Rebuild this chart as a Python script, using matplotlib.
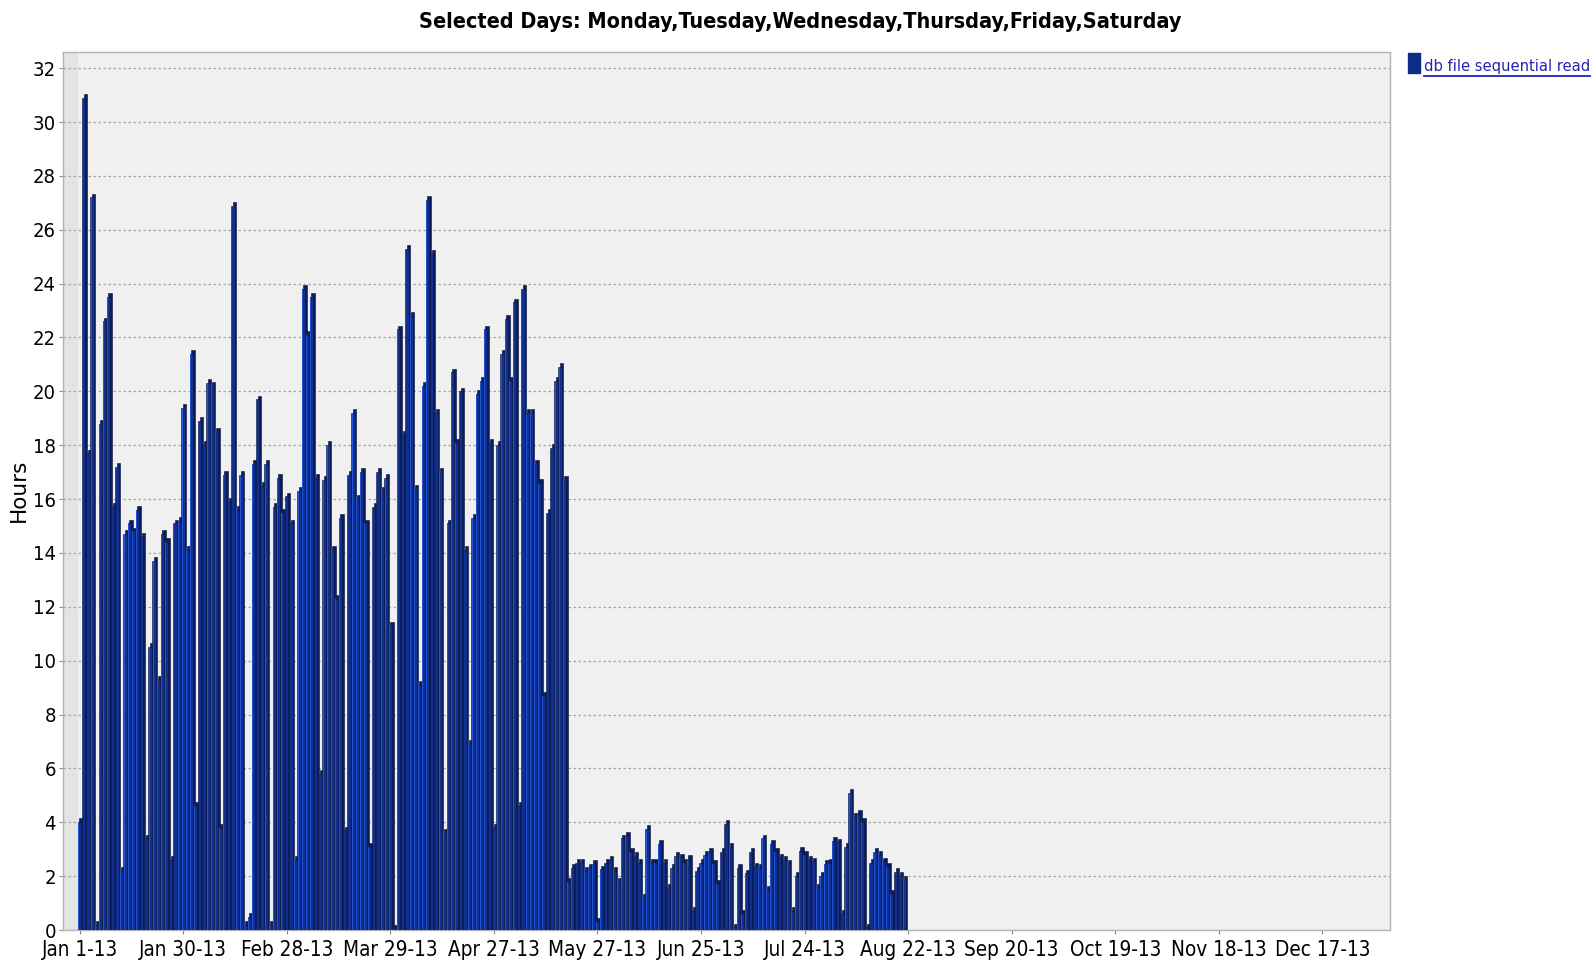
import matplotlib
matplotlib.use("Agg")
import matplotlib.pyplot as plt
from matplotlib import font_manager
from matplotlib.lines import Line2D
from matplotlib.patches import Rectangle
import numpy as np
import pandas as pd

title = "Selected Days: Monday,Tuesday,Wednesday,Thursday,Friday,Saturday"
series_name = "db file sequential read"
y_label = "Hours"

tick_labels = ["Jan 1-13", "Jan 30-13", "Feb 28-13", "Mar 29-13", "Apr 27-13",
               "May 27-13", "Jun 25-13", "Jul 24-13", "Aug 22-13", "Sep 20-13",
               "Oct 19-13", "Nov 18-13", "Dec 17-13"]

# hours per selected day, starting Jan 1 2013 (Sundays skipped)
hours = [
    4.0, 30.9, 17.7, 27.2, 0.2, 18.8, 22.6, 23.5, 15.7, 17.2,
    2.2, 14.7, 15.1, 14.8, 15.6, 14.6, 3.4, 10.5, 13.7, 9.3,
    14.7, 14.4, 2.6, 15.1, 15.2, 19.4, 14.1, 21.4, 4.6, 18.9,
    18.0, 20.3, 20.2, 18.5, 3.8, 16.9, 15.9, 26.9, 15.6, 16.9,
    0.2, 0.5, 17.3, 19.7, 16.5, 17.3, 0.2, 15.7, 16.8, 15.5,
    16.1, 15.1, 2.6, 16.3, 23.8, 22.1, 23.5, 16.8, 5.8, 16.7,
    18.0, 14.1, 12.3, 15.3, 3.7, 16.9, 19.2, 16.0, 17.0, 15.1,
    3.1, 15.7, 17.0, 16.3, 16.8, 11.3, 0.05, 22.3, 18.4, 25.3,
    22.8, 16.4, 9.1, 20.2, 27.1, 25.1, 19.2, 17.0, 3.6, 15.1,
    20.7, 18.1, 20.0, 14.1, 6.9, 15.3, 19.9, 20.4, 22.3, 18.1,
    3.8, 18.0, 21.4, 22.7, 20.4, 23.3, 4.6, 23.8, 19.2, 19.2,
    17.3, 16.6, 8.7, 15.5, 17.9, 20.4, 20.9, 16.7, 1.8, 2.3,
    2.5, 2.5, 2.2, 2.3, 2.45, 0.3, 2.25, 2.5, 2.6, 2.2,
    1.8, 3.4, 3.5, 2.9, 2.75, 2.5, 1.2, 3.75, 2.5, 2.5,
    3.2, 2.5, 1.55, 2.3, 2.75, 2.7, 2.5, 2.65, 0.7, 2.2,
    2.5, 2.8, 2.9, 2.45, 1.7, 2.9, 3.95, 3.1, 0.1, 2.3,
    0.6, 2.1, 2.9, 2.35, 2.3, 3.4, 1.5, 3.2, 2.9, 2.7,
    2.6, 2.45, 0.7, 2.0, 2.95, 2.8, 2.6, 2.55, 1.55, 2.0,
    2.45, 2.5, 3.3, 3.25, 0.6, 3.1, 5.1, 4.2, 4.3, 4.0,
    0.1, 2.5, 2.9, 2.8, 2.55, 2.35, 1.35, 2.15, 2.0, 1.85,
]

# Mon-Sat categories for the whole year, labels every 25th
days = pd.date_range("2013-01-01", "2013-12-31")
days = days[days.dayofweek != 6]

# narrow font if there is one, the width gets fitted below anyway
fonts = font_manager.fontManager.ttflist
narrow = {"family": "DejaVu Sans"}
if any(f.name == "Liberation Sans Narrow" for f in fonts):
    narrow = {"family": "Liberation Sans Narrow"}
elif any(f.name == "DejaVu Sans" and f.stretch == "condensed" for f in fonts):
    narrow = {"family": "DejaVu Sans", "stretch": "condensed"}

W, H = 1596, 969
fig = plt.figure(figsize=(W / 100, H / 100), dpi=100)
ax = fig.add_axes([63 / W, 1 - 930 / H, (1390 - 63) / W, (930 - 52) / H])
ax.set_facecolor("#f0f0f0")
ax.set_xlim(-4, len(days) + 3.3)
ax.set_ylim(0, 32.6)

x = np.arange(len(hours))
vals = np.array(hours)

# fake 3D: dark side/top block behind, front face, light stripe
ax.bar(x + 0.38, vals + 0.14, width=0.82, color="#0b1d5c", edgecolor="#06103a",
       linewidth=0.4, zorder=2)
ax.bar(x, vals, width=0.82, color="#11308e", edgecolor="#0a1746",
       linewidth=0.4, zorder=3)
ax.bar(x - 0.2, vals, width=0.18, color="#2453cf", linewidth=0, zorder=4)

ax.axvspan(-4, -0.6, color="#e4e4e4", zorder=0)

ax.set_yticks(range(0, 33, 2))
ax.yaxis.grid(True, color="#a6a6a6", linestyle=(0, (2, 2)), linewidth=0.9)
ax.set_axisbelow(True)

ax.set_xticks(range(0, len(days), 25))
ax.set_xticklabels(tick_labels, fontsize=14, **narrow)
for lab in ax.get_yticklabels():
    lab.set_fontsize(14.5)
    lab.set_family(narrow["family"])
    lab.set_fontstretch(narrow.get("stretch", "normal"))
ax.tick_params(axis="x", length=3, width=0.8, color="#888888", pad=4)
ax.tick_params(axis="y", length=3, width=0.8, color="#888888", pad=2)

for s in ax.spines.values():
    s.set_color("#b4b4b4")
    s.set_linewidth(1.0)

ttl = fig.text(800 / W, 1 - 21.5 / H, title, ha="center", va="center",
               fontsize=15, fontweight="bold", **narrow)
fig.text(19 / W, 1 - 490 / H, y_label, rotation=90, ha="center",
         va="center", fontsize=15.5)

# legend box in the top right corner, with underlined link style text
fig.patches.append(Rectangle((1408 / W, 1 - 73 / H), 12 / W, 20 / H,
                             transform=fig.transFigure, color="#102a88"))
leg = fig.text(1424 / W, 1 - 71 / H, series_name, ha="left", va="baseline",
               fontsize=14, color="#2323b4", **narrow)


def fit_width(texts, target_px):
    # scale font size so the first text gets the width seen in the reference
    r = fig.canvas.get_renderer()
    w = texts[0].get_window_extent(renderer=r).width
    size = texts[0].get_fontsize() * target_px / w
    for t in texts:
        t.set_fontsize(size)


fig.canvas.draw()
fit_width([ttl], 765)
fit_width([leg], 166)
fit_width(ax.get_xticklabels(), 77)

fig.canvas.draw()
bb = leg.get_window_extent()
fig.add_artist(Line2D([bb.x0 / W, bb.x1 / W], [(bb.y0 - 2) / H] * 2,
                      transform=fig.transFigure, color="#2323b4", linewidth=1.3))

fig.savefig("out.png", dpi=100)
